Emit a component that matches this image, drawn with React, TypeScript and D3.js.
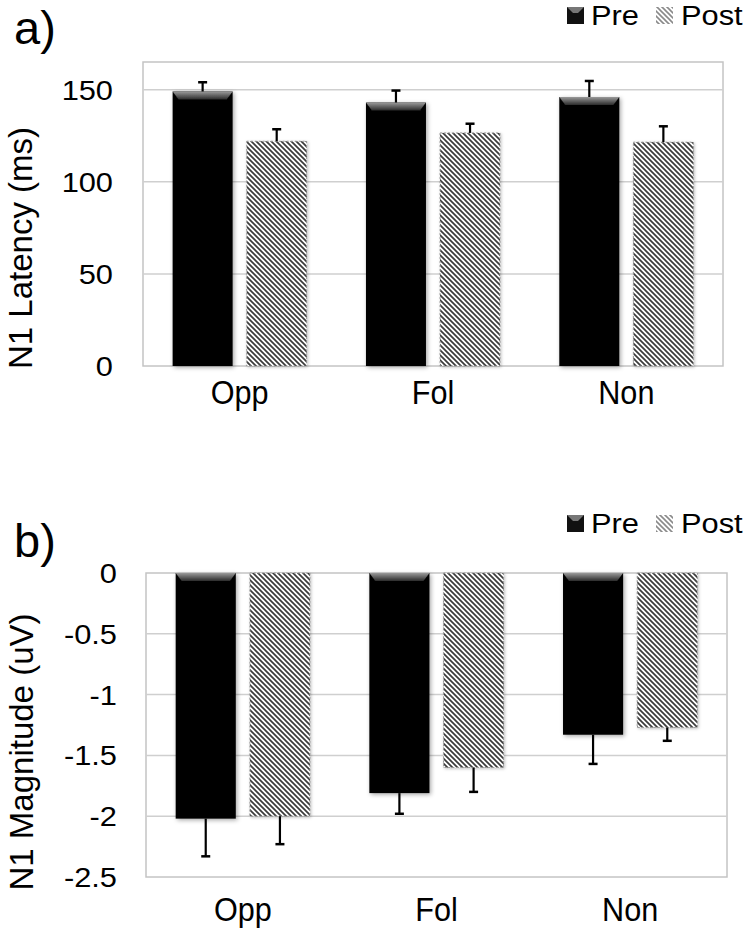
import React from 'react';
import * as d3 from 'd3';

const categories = ['Opp', 'Fol', 'Non'];
const seriesNames = ['Pre', 'Post'];
const latencyPre = [149, 143, 146];
const latencyPost = [122, 126.5, 121.5];
const latencyPreErr = [5, 6.5, 8.7];
const latencyPostErr = [6.5, 5, 8.6];
const magnitudePre = [-2.02, -1.81, -1.33];
const magnitudePost = [-2.0, -1.6, -1.27];
const magnitudePreErr = [0.31, 0.17, 0.24];
const magnitudePostErr = [0.23, 0.2, 0.11];
const latencyTicks = [0, 50, 100, 150];
const magnitudeTicks = [0, -0.5, -1, -1.5, -2, -2.5];

const FONT = '"Liberation Sans", Arial, Helvetica, sans-serif';

function T({ x, y, anchor = 'start', size = 28, sx = 1.1, sy = 1, rotate = false, children }: any) {
  const tr = rotate
    ? `translate(${x},${y}) scale(${sx},${sy}) rotate(-90)`
    : `translate(${x},${y}) scale(${sx},${sy})`;
  return (
    <text transform={tr} textAnchor={anchor} fontFamily={FONT} fontSize={size} fill="#000">
      {children}
    </text>
  );
}

function Panel(props: any) {
  const { box, domain, ticks, pre, post, preErr, postErr, title, label, labelPos, legendY, titlePos, xLabelY, tickRight } = props;
  const x0 = d3.scaleBand().domain(categories).range([box.left, box.right]).padding(0);
  const x1 = d3.scaleBand().domain(seriesNames).range([0, x0.bandwidth()]).paddingInner(0.19).paddingOuter(0.4);
  const y = d3.scaleLinear().domain(domain).range([box.bottom, box.top]);
  const bw = x1.bandwidth();
  const data = categories.map((c, i) => ({
    c,
    bars: [
      { s: 'Pre', v: pre[i], e: preErr[i] },
      { s: 'Post', v: post[i], e: postErr[i] },
    ],
  }));
  const capHalf = 4.5;
  const grid = ticks.filter((t: number) => y(t) > box.top + 1 && y(t) < box.bottom - 1);
  return (
    <g>
      <rect x={box.left} y={box.top} width={box.right - box.left} height={box.bottom - box.top} fill="#fff" stroke="#c4c4c4" strokeWidth={1.5} />
      {grid.map((t: number) => (
        <line key={t} x1={box.left} x2={box.right} y1={y(t)} y2={y(t)} stroke="#cfcfcf" strokeWidth={1.5} />
      ))}
      {data.map((d) =>
        d.bars.map((b) => {
          const bx = (x0(d.c) as number) + (x1(b.s) as number);
          const top = Math.min(y(b.v), y(0));
          const h = Math.abs(y(b.v) - y(0));
          const sign = b.v >= 0 ? 1 : -1;
          const ye = y(b.v + sign * b.e);
          const cx = bx + bw / 2;
          return (
            <g key={d.c + b.s}>
              {b.s === 'Pre' ? (
                <g filter="url(#shadow)">
                  <rect x={bx} y={top} width={bw} height={h} fill="#050505" />
                  <polygon
                    points={`${bx},${top} ${bx + bw},${top} ${bx + bw - 6},${top + 8} ${bx + 6},${top + 8}`}
                    fill="url(#bevel)"
                  />
                </g>
              ) : (
                <g filter="url(#shadowLight)">
                  <rect x={bx} y={top} width={bw} height={h} fill="url(#hatch)" stroke="#9a9a9a" strokeWidth={1} strokeDasharray="2,2" />
                </g>
              )}
              <line x1={cx} x2={cx} y1={y(b.v)} y2={ye} stroke="#000" strokeWidth={2.2} />
              <line x1={cx - capHalf} x2={cx + capHalf} y1={ye} y2={ye} stroke="#000" strokeWidth={2.5} />
            </g>
          );
        })
      )}
      {ticks.map((t: number) => (
        <T key={'t' + t} x={tickRight} y={y(t) + 10} anchor="end">
          {String(t)}
        </T>
      ))}
      {categories.map((c) => (
        <T key={'x' + c} x={(x0(c) as number) + x0.bandwidth() / 2} y={xLabelY} anchor="middle" size={30} sx={1.02} sy={1.1}>
          {c}
        </T>
      ))}
      <T x={titlePos.x} y={titlePos.y} anchor="middle" size={33} sx={1} rotate>
        {title}
      </T>
      <T x={labelPos.x} y={labelPos.y} size={47} sx={1}>
        {label}
      </T>
      <g>
        <rect x={567} y={legendY - 18} width={17} height={17} fill="#111" />
        <polygon points={`${567},${legendY - 18} ${584},${legendY - 18} ${578},${legendY - 12} ${573},${legendY - 12}`} fill="#777" />
        <T x={591} y={legendY}>Pre</T>
        <rect x={656} y={legendY - 18} width={17} height={17} fill="url(#hatchLegend)" />
        <T x={681} y={legendY}>Post</T>
      </g>
    </g>
  );
}

export default function App() {
  return (
    <svg width={750} height={935} style={{ position: 'absolute', left: 0, top: 0, background: '#fff' }}>
      <defs>
        <pattern id="hatch" patternUnits="userSpaceOnUse" width={5} height={5}>
          <rect width={5} height={5} fill="#fff" />
          <path d="M-1,-1 L6,6 M-1,4 L1,6 M4,-1 L6,1" stroke="#3a3a3a" strokeWidth={1.7} />
        </pattern>
        <pattern id="hatchLegend" patternUnits="userSpaceOnUse" width={5} height={5}>
          <rect width={5} height={5} fill="#fff" />
          <path d="M-1,-1 L6,6 M-1,4 L1,6 M4,-1 L6,1" stroke="#8a8a8a" strokeWidth={1.6} />
        </pattern>
        <linearGradient id="bevel" x1="0" y1="0" x2="0" y2="1">
          <stop offset="0" stopColor="#9a9a9a" />
          <stop offset="1" stopColor="#2a2a2a" />
        </linearGradient>
        <filter id="shadow" x="-20%" y="-20%" width="140%" height="140%">
          <feDropShadow dx={1.5} dy={1.5} stdDeviation={2} floodColor="#000" floodOpacity={0.35} />
        </filter>
        <filter id="shadowLight" x="-20%" y="-20%" width="140%" height="140%">
          <feDropShadow dx={1} dy={1} stdDeviation={1.5} floodColor="#000" floodOpacity={0.25} />
        </filter>
      </defs>
      <Panel
        box={{ left: 143, right: 723, top: 62, bottom: 366 }}
        domain={[0, 165]}
        ticks={latencyTicks}
        pre={latencyPre}
        post={latencyPost}
        preErr={latencyPreErr}
        postErr={latencyPostErr}
        title="N1 Latency (ms)"
        label="a)"
        labelPos={{ x: 14, y: 44 }}
        legendY={25}
        titlePos={{ x: 32, y: 248 }}
        xLabelY={404}
        tickRight={113}
      />
      <Panel
        box={{ left: 146, right: 727, top: 573, bottom: 877 }}
        domain={[-2.5, 0]}
        ticks={magnitudeTicks}
        pre={magnitudePre}
        post={magnitudePost}
        preErr={magnitudePreErr}
        postErr={magnitudePostErr}
        title="N1 Magnitude (uV)"
        label="b)"
        labelPos={{ x: 14, y: 557 }}
        legendY={533}
        titlePos={{ x: 33, y: 752 }}
        xLabelY={921}
        tickRight={117}
      />
    </svg>
  );
}
